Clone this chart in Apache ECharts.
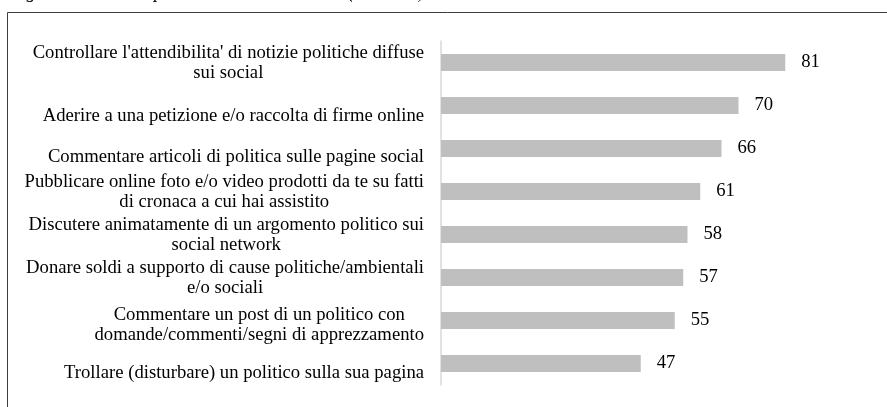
<!DOCTYPE html>
<html>
<head>
<meta charset="utf-8">
<script src="https://cdn.jsdelivr.net/npm/echarts@6/dist/echarts.min.js"></script>
<style>
  html, body { margin: 0; padding: 0; background: #fff; }
  #chart { width: 887px; height: 407px; }
</style>
</head>
<body>
<div id="chart"></div>
<script>
// Online political activities, share of respondents (%)
const categories = [
  "Controllare l'attendibilita' di notizie politiche diffuse\nsui social",
  "Aderire a una petizione e/o raccolta di firme online",
  "Commentare articoli di politica sulle pagine social",
  "Pubblicare online foto e/o video prodotti da te su fatti\ndi cronaca a cui hai assistito",
  "Discutere animatamente di un argomento politico sui\nsocial network",
  "Donare soldi a supporto di cause politiche/ambientali\ne/o sociali",
  "Commentare un post di un politico con\ndomande/commenti/segni di apprezzamento",
  "Trollare (disturbare) un politico sulla sua pagina"
];
const values = [81, 70, 66, 61, 58, 57, 55, 47];
const figureTitle = "Figura 4 – Attività politiche svolte sui social (valori %)";

// vertical nudge (px) of each category label relative to its bar
const labelNudge = [1, 11, 9, 1, 1, 1, 5, 10];

const serif = "'Liberation Serif', 'Times New Roman', serif";
const fs = 18.67;

const chart = echarts.init(document.getElementById('chart'), null, { renderer: 'canvas' });

const yData = categories.map((c, i) => ({
  value: c,
  textStyle: { padding: [labelNudge[i] * 2, 0, 0, 0] }
}));

chart.setOption({
  animation: false,
  backgroundColor: '#ffffff',
  graphic: [
    {
      type: 'text',
      x: 10,
      y: 3,
      z: 10,
      silent: true,
      style: {
        text: figureTitle,
        font: "italic " + fs + "px " + serif,
        fill: '#000',
        verticalAlign: 'bottom'
      }
    },
    {
      type: 'rect',
      silent: true,
      shape: { x: 7.5, y: 12.5, width: 1000, height: 1000 },
      style: { fill: 'none', stroke: '#3c3c3c', lineWidth: 1 }
    }
  ],
  grid: { left: 441, top: 41, width: 425, height: 344, containLabel: false },
  xAxis: {
    type: 'value',
    min: 0,
    max: 100,
    show: false
  },
  yAxis: {
    type: 'category',
    inverse: true,
    data: yData,
    axisLine: { show: true, lineStyle: { color: '#d9d9d9', width: 1.5 } },
    axisTick: { show: false },
    splitLine: { show: false },
    axisLabel: {
      interval: 0,
      hideOverlap: false,
      margin: 17,
      color: '#000',
      fontFamily: serif,
      fontSize: fs,
      lineHeight: 20,
      formatter: (v) => v.split('\n').map(l => '{c|' + l + '}').join('\n'),
      rich: {
        c: { align: 'center', fontFamily: serif, fontSize: fs, lineHeight: 20, color: '#000' }
      }
    }
  },
  series: [{
    type: 'bar',
    data: values,
    barWidth: 17,
    itemStyle: { color: '#bfbfbf' },
    label: {
      show: true,
      position: 'right',
      distance: 16,
      color: '#000',
      fontFamily: serif,
      fontSize: fs
    }
  }]
});
</script>
</body>
</html>
